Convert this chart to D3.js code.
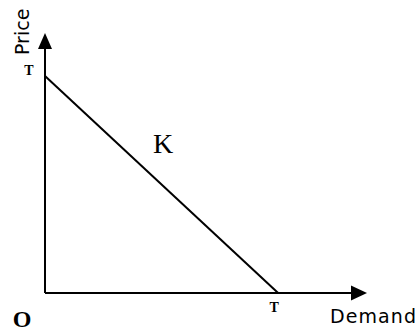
<!DOCTYPE html>
<html lang="en">
<head>
<meta charset="UTF-8">
<title>Price vs Demand</title>
<script src="https://cdn.jsdelivr.net/npm/d3@7"></script>
<style>
    body{ margin:0; background:#fff; }
    .axisLabel{ font-family: "DejaVu Sans", sans-serif; font-size:19px; fill:#000; }
    .tLabel{ font-family: "Liberation Serif", serif; font-size:14px; font-weight:bold; fill:#000; }
</style>
</head>
<body>
<svg id="main" width="418" height="333"></svg>
<script>
    const width = 418, height = 333;

    // data: axis extents and the demand line endpoints
    const axisMax = [100, 100];          // [x, y]
    const priceIntercept = 83.5;         // T on price axis
    const demandIntercept = 72.4;        // T on demand axis
    const lineLabel = "K";
    const tickLabels = ["T", "T"];

    const xScale = d3.scaleLinear().domain([0, axisMax[0]]).range([45, 367]);
    const yScale = d3.scaleLinear().domain([0, axisMax[1]]).range([293, 33]);

    const svg = d3.select("svg#main");
    const g = svg.append("g");

    // axes
    g.append("line")
        .attr("x1", xScale(0)).attr("y1", yScale(0))
        .attr("x2", xScale(0)).attr("y2", yScale(axisMax[1]) + 14)
        .attr("stroke", "#000").attr("stroke-width", 2);
    g.append("line")
        .attr("x1", xScale(0)).attr("y1", yScale(0))
        .attr("x2", xScale(axisMax[0]) - 14).attr("y2", yScale(0))
        .attr("stroke", "#000").attr("stroke-width", 2);

    // arrow heads
    const ax = xScale(0), ay = yScale(axisMax[1]);
    g.append("path")
        .attr("d", `M${ax},${ay} L${ax-7},${ay+16} L${ax+7},${ay+16} Z`)
        .attr("fill", "#000");
    const bx = xScale(axisMax[0]), by = yScale(0);
    g.append("path")
        .attr("d", `M${bx},${by} L${bx-16},${by-7.5} L${bx-16},${by+7.5} Z`)
        .attr("fill", "#000");

    // demand line
    g.append("line")
        .attr("x1", xScale(0)).attr("y1", yScale(priceIntercept))
        .attr("x2", xScale(demandIntercept)).attr("y2", yScale(0))
        .attr("stroke", "#000").attr("stroke-width", 2);

    // T labels
    g.append("text").attr("class", "tLabel")
        .attr("x", xScale(0) - 16).attr("y", yScale(priceIntercept) - 1)
        .attr("text-anchor", "middle")
        .text(tickLabels[0]);
    g.append("text").attr("class", "tLabel")
        .attr("x", xScale(demandIntercept) - 4).attr("y", yScale(0) + 19)
        .attr("text-anchor", "middle")
        .text(tickLabels[1]);

    // K
    g.append("text")
        .attr("x", 163).attr("y", 153)
        .attr("text-anchor", "middle")
        .style("font-family", "Liberation Serif, serif")
        .style("font-size", "28px")
        .text(lineLabel);

    // origin
    g.append("text")
        .attr("x", 22).attr("y", 327)
        .attr("text-anchor", "middle")
        .style("font-family", "Liberation Serif, serif")
        .style("font-size", "24px")
        .style("font-weight", "bold")
        .text("O");

    // axis titles
    g.append("text").attr("class", "axisLabel")
        .attr("transform", "translate(29,55) rotate(-90)")
        .text("Price");
    g.append("text").attr("class", "axisLabel")
        .attr("x", 330).attr("y", 323)
        .attr("textLength", 86)
        .text("Demand");
</script>
</body>
</html>
